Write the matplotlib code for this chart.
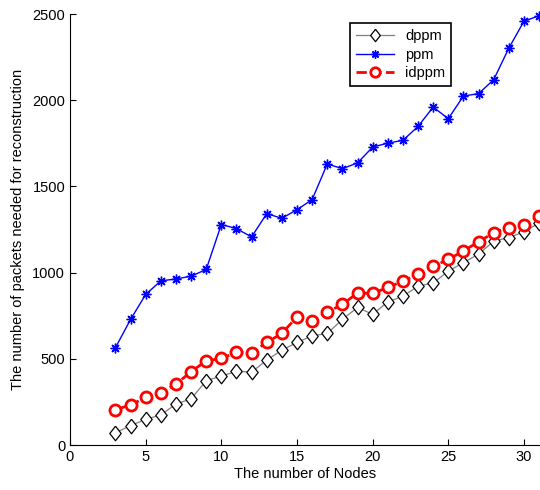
import numpy as np
import matplotlib
matplotlib.use("Agg")
import matplotlib.pyplot as plt

plt.rcParams["font.family"] = ["Liberation Sans", "DejaVu Sans"]

nodes = list(range(3, 32))
dppm = [71, 112, 149, 174, 238, 267, 373, 400, 427, 423, 492, 550, 595, 633, 647,
        728, 798, 758, 830, 863, 921, 940, 1008, 1058, 1107, 1182, 1203, 1236, 1288]
ppm = [564, 728, 873, 952, 963, 979, 1018, 1279, 1255, 1207, 1342, 1315, 1365, 1423, 1630,
       1603, 1636, 1728, 1751, 1767, 1848, 1960, 1893, 2024, 2038, 2119, 2302, 2458, 2490]
idppm = [205, 232, 276, 303, 353, 425, 488, 502, 537, 535, 595, 647, 743, 720, 772,
         815, 882, 879, 914, 950, 991, 1037, 1076, 1126, 1178, 1232, 1259, 1279, 1327]

# matlab style diamond, a bit taller than wide
diamond = [(0, 1), (0.78, 0), (0, -1), (-0.78, 0), (0, 1)]

fig = plt.figure(figsize=(5.4, 4.9), dpi=100)
ax = fig.add_axes([70/540, 45/490, 470/540, 431/490])

ax.plot(nodes, dppm, color="gray", lw=0.9, marker=diamond, ms=10.5, mfc="white", mec="black",
        mew=0.9, label="dppm", clip_on=False)
ax.plot(nodes, ppm, color="blue", lw=1, marker=(8, 2, 0), ms=7, mec="blue", mew=1,
        label="ppm", clip_on=False)
ax.plot(nodes, idppm, color="red", lw=2, ls="--", marker="o", ms=8, mfc="white", mec="red",
        mew=2, label="idppm", clip_on=False)

ax.set_xlim(0, 31.06)
ax.set_ylim(0, 2500)
ax.set_xticks([0, 5, 10, 15, 20, 25, 30])
ax.set_yticks([0, 500, 1000, 1500, 2000, 2500])
ax.spines["top"].set_visible(False)
ax.spines["right"].set_visible(False)
ax.tick_params(direction="in", labelsize=10.5, length=4)

ax.set_xlabel("The number of Nodes", fontsize=10.5, labelpad=2)
ax.set_ylabel("The number of packets needed for reconstruction", fontsize=10.5, labelpad=5)

leg = ax.legend(loc="upper left", bbox_to_anchor=(0.58, 0.995), fancybox=False,
                edgecolor="black", framealpha=1, fontsize=10.5, borderpad=0.4,
                labelspacing=0.3, handlelength=2.6, markerscale=0.85)
leg.get_frame().set_linewidth(1.2)

fig.savefig("out.png", dpi=100)
